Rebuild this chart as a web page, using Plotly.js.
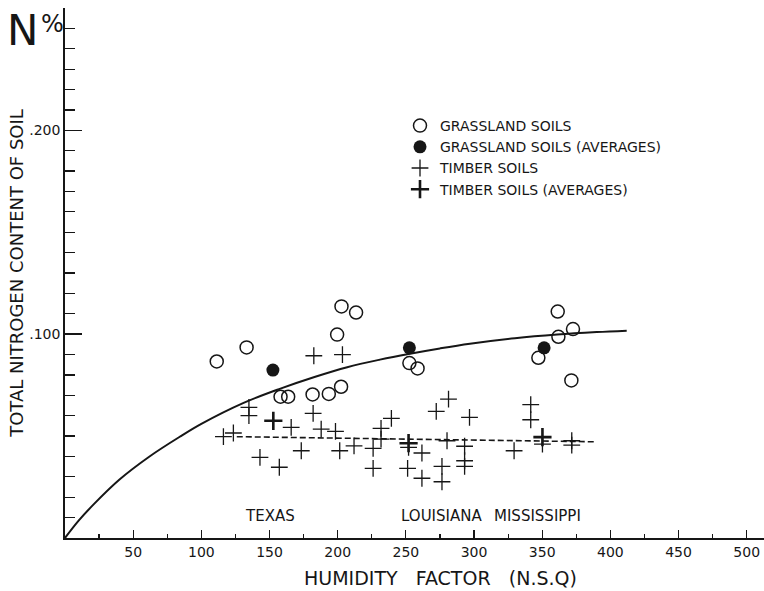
<!DOCTYPE html>
<html>
<head>
<meta charset="utf-8">
<script src="https://cdn.plot.ly/plotly-3.0.1.min.js"></script>
<style>html,body{margin:0;padding:0;background:#fff;}#chart{width:764px;height:591px;}</style>
</head>
<body>
<div id="chart"></div>
<script>
// Grassland soils (individual)
const grassX = [111.3, 133.2, 158.1, 163.7, 181.6, 193.5, 199.6, 202.5, 202.8, 213.5, 252.6, 258.6, 347.2, 361.4, 361.9, 371.4, 372.6];
const grassY = [0.0866, 0.0935, 0.0693, 0.0693, 0.0704, 0.0707, 0.0998, 0.0742, 0.1136, 0.1106, 0.0858, 0.0832, 0.0884, 0.1111, 0.0987, 0.0773, 0.1025];
// Grassland soils (averages)
const grassAvgX = [152.5, 252.6, 351.4];
const grassAvgY = [0.0824, 0.0933, 0.0933];
// Timber soils (individual)
const timberX = [116.2, 123.5, 134.9, 134.9, 143.0, 157.2, 165.9, 173.3, 182.0, 182.5, 187.9, 198.4, 201.5, 203.5, 212.0, 226.0, 226.0, 231.8, 231.8, 239.4, 252.0, 251.3, 261.8, 261.8, 272.3, 281.3, 280.2, 276.5, 276.5, 296.7, 293.1, 293.1, 293.1, 329.4, 341.6, 341.6, 350.2, 371.7, 371.7];
const timberY = [0.0497, 0.0515, 0.0641, 0.0600, 0.0396, 0.0347, 0.0543, 0.0428, 0.0611, 0.0894, 0.0534, 0.0523, 0.0428, 0.0900, 0.0452, 0.0440, 0.0342, 0.0538, 0.0485, 0.0587, 0.0445, 0.0342, 0.0417, 0.0293, 0.0621, 0.0681, 0.0477, 0.0351, 0.0276, 0.0592, 0.0450, 0.0379, 0.0351, 0.0428, 0.0654, 0.0580, 0.0461, 0.0477, 0.0456];
// Timber soils (averages)
const timberAvgX = [152.8, 252.0, 350.2];
const timberAvgY = [0.0575, 0.0465, 0.0495];
// Grassland curve (solid)
const curveX = [0, 10, 21, 40, 62, 85, 100, 131, 158, 183, 207, 231, 252, 275, 297, 330, 361, 390, 412];
const curveY = [0, 0.0085, 0.0165, 0.0287, 0.0400, 0.0500, 0.0560, 0.0663, 0.0733, 0.0790, 0.0838, 0.0875, 0.0903, 0.0930, 0.0953, 0.0980, 0.0998, 0.1010, 0.1017];
// Timber trend (dashed)
const dashX = [126, 388];
const dashY = [0.0497, 0.0472];
// Labels
const xTickVals = [50, 100, 150, 200, 250, 300, 350, 400, 450, 500];
const xTickText = ['50', '100', '150', '200', '250', '300', '350', '400', '450', '500'];
const yTickVals = [0.1, 0.2];
const yTickText = ['.100', '.200'];
const stateNames = ['TEXAS', 'LOUISIANA', 'MISSISSIPPI'];
const stateX = [150.5, 276.5, 346.6];
const stateY = [0.011, 0.011, 0.011];
const legendNames = ['GRASSLAND SOILS', 'GRASSLAND SOILS (AVERAGES)', 'TIMBER SOILS', 'TIMBER SOILS (AVERAGES)'];

const INK = '#161616';
const FONT = 'DejaVu Sans, Liberation Sans, sans-serif';

const traces = [
  {x: curveX, y: curveY, mode: 'lines', line: {color: INK, width: 2, shape: 'spline', smoothing: 1}, showlegend: false, hoverinfo: 'skip'},
  {x: dashX, y: dashY, mode: 'lines', line: {color: INK, width: 1.6, dash: '6px,3px'}, showlegend: false, hoverinfo: 'skip'},
  {x: grassX, y: grassY, mode: 'markers', name: legendNames[0],
   marker: {symbol: 'circle-open', size: 13, color: INK, line: {width: 1.5, color: INK}}},
  {x: grassAvgX, y: grassAvgY, mode: 'markers', name: legendNames[1],
   marker: {symbol: 'circle', size: 13, color: INK, line: {width: 0}}},
  {x: timberX, y: timberY, mode: 'markers', name: legendNames[2],
   marker: {symbol: 'cross-thin-open', size: 12, color: INK, line: {width: 1.3, color: INK}}},
  {x: timberAvgX, y: timberAvgY, mode: 'markers', name: legendNames[3],
   marker: {symbol: 'cross-thin-open', size: 13, color: INK, line: {width: 2.6, color: INK}}}
];

const annotations = stateNames.map((s, i) => ({
  x: stateX[i], y: stateY[i], xref: 'x', yref: 'y', text: s, showarrow: false,
  xanchor: 'center', yanchor: 'middle', font: {family: FONT, size: 15, color: INK}
}));
annotations.push({
  xref: 'paper', yref: 'paper', x: (22 - 65) / 699, y: (538 - 31) / 530, text: 'N', showarrow: false,
  xanchor: 'center', yanchor: 'middle', borderpad: 0, font: {family: FONT, size: 42, color: INK}
});
annotations.push({
  xref: 'paper', yref: 'paper', x: (52 - 65) / 699, y: (538 - 24) / 530, text: '%', showarrow: false,
  xanchor: 'center', yanchor: 'middle', borderpad: 0, font: {family: FONT, size: 24, color: INK}
});
annotations.push({
  xref: 'paper', yref: 'paper', x: (440 - 65) / 699, y: (538 - 578) / 530, text: 'HUMIDITY&nbsp;&nbsp; FACTOR&nbsp;&nbsp; (N.S.Q)', showarrow: false,
  xanchor: 'center', yanchor: 'middle', font: {family: FONT, size: 19, color: INK}
});

const layout = {
  width: 764, height: 591,
  margin: {l: 65, r: 0, t: 8, b: 53, pad: 0},
  paper_bgcolor: '#ffffff', plot_bgcolor: '#ffffff',
  font: {family: FONT, color: INK},
  showlegend: true,
  legend: {x: (400 - 65) / 699, y: (538 - 110) / 530, xanchor: 'left', yanchor: 'top',
    bgcolor: 'rgba(0,0,0,0)', borderwidth: 0, font: {family: FONT, size: 14, color: INK}, tracegroupgap: 0},
  xaxis: {
    range: [0, 512.7], showgrid: false, zeroline: false, showline: true, linecolor: INK, linewidth: 1.8,
    ticks: 'inside', ticklen: 8, tickwidth: 1.3, tickcolor: INK,
    tickvals: xTickVals, ticktext: xTickText, tickfont: {family: FONT, size: 14, color: INK},
    minor: {dtick: 25, tick0: 0, ticks: 'inside', ticklen: 4, tickwidth: 1.2, tickcolor: INK, showgrid: false},
    fixedrange: true
  },
  yaxis: {
    range: [0, 0.26], showgrid: false, zeroline: false, showline: true, linecolor: INK, linewidth: 1.8,
    ticks: 'inside', ticklen: 17, tickwidth: 1.3, tickcolor: INK,
    tickvals: yTickVals, ticktext: yTickText, tickfont: {family: FONT, size: 14, color: INK},
    minor: {dtick: 0.01, tick0: 0, ticks: 'inside', ticklen: 10, tickwidth: 1.2, tickcolor: INK, showgrid: false},
    title: {text: 'TOTAL NITROGEN CONTENT OF SOIL', font: {family: FONT, size: 18, color: INK}, standoff: 1},
    fixedrange: true
  },
  annotations: annotations
};

Plotly.newPlot('chart', traces, layout, {displayModeBar: false, staticPlot: true});
</script>
</body>
</html>
